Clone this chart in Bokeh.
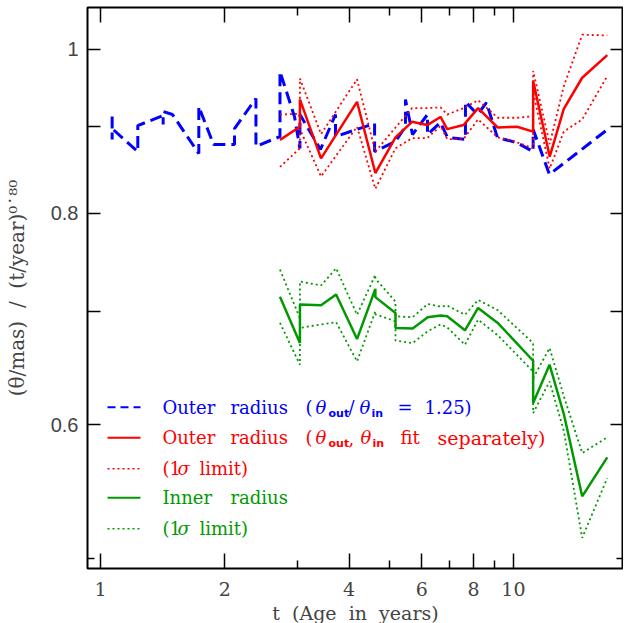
from bokeh.plotting import figure
from bokeh.models import FixedTicker, LogAxis, Label, Arrow, CustomJSTickFormatter, Range1d
from bokeh.embed import file_html
from bokeh.resources import INLINE

# ---------------- data ----------------
blue_t = [1.067, 1.067, 1.067, 1.231, 1.231, 1.418, 1.418, 1.418, 1.494, 1.730, 1.730, 1.878,
          2.111, 2.111, 2.379, 2.379, 2.72, 2.72, 2.949, 3.04, 3.04, 3.41, 3.707, 3.707,
          4.61, 4.61, 5.18, 5.476, 5.476, 5.694, 6.191, 6.191, 6.658, 6.922, 7.651, 7.651,
          8.182, 8.603, 9.145, 10.17, 11.16, 11.16, 12.22, 16.89]
blue_v = [0.9126, 0.8845, 0.8977, 0.8700, 0.9014, 0.9138, 0.9027, 0.9188, 0.9150, 0.8677, 0.9250, 0.8785,
          0.8785, 0.8977, 0.9352, 0.8762, 0.8880, 0.9701, 0.9126, 0.8738, 0.9150, 0.8726, 0.9150, 0.8880,
          0.9040, 0.8700, 0.8820, 0.9002, 0.9339, 0.8905, 0.9150, 0.8905, 0.9052, 0.8868, 0.8845, 0.9313,
          0.9150, 0.9300, 0.8868, 0.8808, 0.8700, 0.8966, 0.8434, 0.8966]

red_t = [2.72, 3.04, 3.04, 3.42, 4.18, 4.63, 5.18, 5.68, 6.18, 6.66, 6.91, 7.57, 8.21, 9.16,
         10.2, 11.16, 11.16, 12.24, 13.24, 14.67, 16.87]
red_v = [0.884, 0.900, 0.934, 0.862, 0.931, 0.845, 0.887, 0.906, 0.902, 0.912, 0.897, 0.902, 0.923, 0.899,
         0.900, 0.894, 0.958, 0.864, 0.922, 0.962, 0.992]
red_hi = [0.915, 0.916, 0.961, 0.891, 0.960, 0.870, 0.899, 0.923, 0.923, 0.924, 0.915, 0.923, 0.933, 0.911,
          0.911, 0.913, 0.971, 0.879, 0.951, 1.020, 1.019]
red_lo = [0.852, 0.874, 0.897, 0.841, 0.900, 0.827, 0.874, 0.886, 0.886, 0.901, 0.885, 0.885, 0.909, 0.887,
          0.881, 0.874, 0.944, 0.850, 0.894, 0.909, 0.964]

green_t = [2.72, 3.04, 3.04, 3.42, 3.72, 4.18, 4.63, 4.63, 5.18, 5.18, 5.70, 6.20, 6.66, 6.91, 7.63,
           8.21, 9.16, 11.16, 11.16, 12.23, 13.25, 14.67, 16.87]
green_v = [0.7140, 0.6704, 0.7066, 0.7059, 0.7163, 0.6741, 0.7218, 0.7137, 0.6985, 0.6844, 0.6838, 0.6944,
           0.6960, 0.6953, 0.6822, 0.7033, 0.6891, 0.6545, 0.6180, 0.6510, 0.6083, 0.5442, 0.5738]
green_hi = [0.7409, 0.6936, 0.7290, 0.7251, 0.7423, 0.6968, 0.7357, 0.7320, 0.7093, 0.6953, 0.6944, 0.7071,
            0.7045, 0.7055, 0.6968, 0.7110, 0.7011, 0.6704, 0.6391, 0.6659, 0.6234, 0.5772, 0.5897]
green_lo = [0.6891, 0.6510, 0.6844, 0.6876, 0.6898, 0.6539, 0.7001, 0.6972, 0.6906, 0.6727, 0.6704, 0.6813,
            0.6876, 0.6850, 0.6689, 0.6922, 0.6776, 0.6450, 0.6095, 0.6363, 0.5945, 0.5143, 0.5579]

x_major = [1, 2, 4, 6, 8, 10]
x_minor = [3, 5, 7, 9]
y_major = [0.6, 0.7, 0.8, 0.9, 1.0]
y_minor = [0.5]
y_labels = {"0.6": "0.6", "0.8": "0.8", "1": "1"}

NB = "\u00a0"
x_title = "t" + NB + " (Age" + NB + " in" + NB + " years)"
y_title = "(θ/mas)" + NB + " /" + NB + " (t/year)⁰˙⁸⁰"

BLUE, RED, GREEN = "#0000ff", "#ff0000", "#009a00"

# ---------------- figure ----------------
FL, FB = 87, 568   # page position of frame left / bottom (used for annotations)

p = figure(frame_width=536, frame_height=561, x_axis_type="log", y_axis_type="log",
           x_range=Range1d(0.930, 18.47), y_range=Range1d(0.4933, 1.0585),
           output_backend="svg", toolbar_location=None,
           min_border_left=87, min_border_right=0, min_border_top=7, min_border_bottom=54)
p.background_fill_color = "white"
p.border_fill_color = "white"
p.xgrid.grid_line_color = None
p.ygrid.grid_line_color = None
p.outline_line_color = "black"
p.outline_line_width = 2
p.outline_line_alpha = 1

def style(ax, major_in, minor_in):
    ax.axis_line_color = None
    ax.major_tick_in = major_in
    ax.major_tick_out = 0
    ax.minor_tick_in = minor_in
    ax.minor_tick_out = 0
    ax.major_tick_line_color = "black"
    ax.minor_tick_line_color = "black"
    ax.major_tick_line_width = 1.5
    ax.minor_tick_line_width = 1.5

xb = p.xaxis[0]
xb.ticker = FixedTicker(ticks=x_major, minor_ticks=x_minor)
xb.formatter = CustomJSTickFormatter(code="return String(tick);")
style(xb, 15, 8)
xb.major_label_text_font = "DejaVu Serif"
xb.major_label_text_font_size = "19px"
xb.major_label_standoff = 13
xb.axis_label = x_title
xb.axis_label_text_font = "DejaVu Serif"
xb.axis_label_text_font_size = "19px"
xb.axis_label_text_font_style = "normal"
xb.axis_label_standoff = 3

yl = p.yaxis[0]
yl.ticker = FixedTicker(ticks=y_major, minor_ticks=y_minor)
yl.formatter = CustomJSTickFormatter(args=dict(m=y_labels), code="const s = m[String(tick)]; return s ? s : '';")
style(yl, 13, 7)
yl.major_label_text_font = "Liberation Sans"
yl.major_label_text_font_size = "20px"
yl.major_label_standoff = 9
yl.axis_label = y_title
yl.axis_label_text_font = "DejaVu Serif"
yl.axis_label_text_font_size = "20px"
yl.axis_label_text_font_style = "normal"
yl.axis_label_standoff = 19

xt = LogAxis(ticker=FixedTicker(ticks=x_major, minor_ticks=x_minor),
             formatter=CustomJSTickFormatter(code="return '';"))
style(xt, 15, 8)
xt.major_label_text_font_size = "0px"
xt.major_label_standoff = 0
p.add_layout(xt, "above")

yr = LogAxis(ticker=FixedTicker(ticks=y_major, minor_ticks=y_minor),
             formatter=CustomJSTickFormatter(code="return '';"))
style(yr, 13, 7)
yr.major_label_text_font_size = "0px"
yr.major_label_standoff = 0
p.add_layout(yr, "right")

# ---------------- data lines ----------------
p.line(blue_t, blue_v, line_color=BLUE, line_width=3, line_dash="12 6")
p.line(red_t, red_hi, line_color=RED, line_width=1.8, line_dash="2 3")
p.line(red_t, red_lo, line_color=RED, line_width=1.8, line_dash="2 3")
p.line(red_t, red_v, line_color=RED, line_width=2.5)
p.line(green_t, green_hi, line_color=GREEN, line_width=1.8, line_dash="2 3")
p.line(green_t, green_lo, line_color=GREEN, line_width=1.8, line_dash="2 3")
p.line(green_t, green_v, line_color=GREEN, line_width=2.5)

# ---------------- legend (page coords -> frame screen coords) ----------------
def txt(s, xp, yp, color="black", size="18px", style_="normal", font="DejaVu Serif"):
    p.add_layout(Label(x=xp - FL, y=FB - yp, x_units="screen", y_units="screen", text=s,
                       text_color=color, text_font=font, text_font_size=size,
                       text_font_style=style_, text_align="left", text_baseline="middle"))

def sample(yp, color, dash, width):
    p.add_layout(Arrow(start=None, end=None, x_start=107 - FL, y_start=FB - yp,
                       x_end=140 - FL, y_end=FB - yp, start_units="screen", end_units="screen",
                       line_color=color, line_width=width, line_dash=dash))

def sub(s, xp, yp, color):
    txt(s, xp, yp + 6, color, size="11px", style_="bold", font="DejaVu Sans")

rows = [406.7, 437.3, 468.3, 497.3, 528.3]
sample(rows[0], BLUE, "8 5", 2)
sample(rows[1], RED, "solid", 2)
sample(rows[2], RED, "2 3", 1.5)
sample(rows[3], GREEN, "solid", 2)
sample(rows[4], GREEN, "2 3", 1.5)

y = rows[0]
txt("Outer", 162, y, BLUE); txt("radius", 230, y, BLUE); txt("(", 305, y, BLUE)
txt("θ", 315, y, BLUE, style_="italic"); sub("out", 328, y, BLUE)
txt("/", 348, y, BLUE); txt("θ", 359, y, BLUE, style_="italic"); sub("in", 371, y, BLUE)
txt("=", 397, y, BLUE); txt("1.25)", 424, y, BLUE)

y = rows[1]
txt("Outer", 162, y, RED); txt("radius", 230, y, RED); txt("(", 305, y, RED)
txt("θ", 315, y, RED, style_="italic"); sub("out", 328, y, RED)
txt(",", 348, y, RED); txt("θ", 360, y, RED, style_="italic"); sub("in", 372, y, RED)
txt("fit", 400, y, RED); txt("separately)", 437, y, RED, size="19px")

for yy, col in ((rows[2], RED), (rows[4], GREEN)):
    txt("(1", 162, yy, col); txt("σ", 177, yy, col, style_="italic"); txt("limit)", 199, yy, col)

txt("Inner", 162, rows[3], GREEN); txt("radius", 230, rows[3], GREEN)

open("out.html", "w").write(file_html(p, INLINE))
